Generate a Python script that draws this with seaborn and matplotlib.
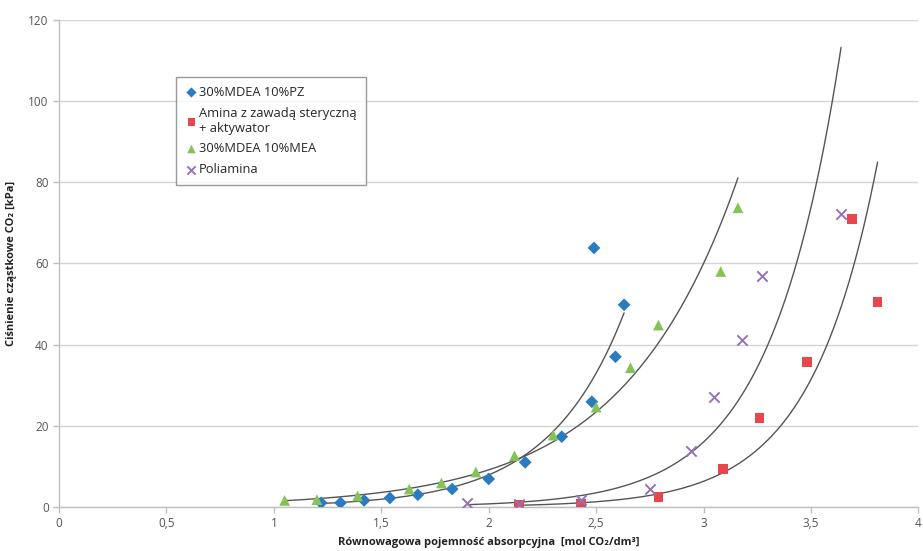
import numpy as np
import pandas as pd
import matplotlib
matplotlib.use("Agg")
import matplotlib.pyplot as plt
import seaborn as sns
from matplotlib.ticker import FuncFormatter, MultipleLocator

# Dane
pz_x = [1.22, 1.31, 1.42, 1.54, 1.67, 1.83, 2.00, 2.17, 2.34, 2.48, 2.59, 2.63, 2.49]
pz_y = [1.0, 1.0, 1.6, 2.2, 3.0, 4.4, 6.9, 11.0, 17.3, 25.9, 37.0, 49.8, 63.8]

amina_x = [2.14, 2.43, 2.79, 3.09, 3.26, 3.48, 3.69, 3.81]
amina_y = [0.5, 0.7, 2.5, 9.4, 21.9, 35.7, 71.0, 50.5]

mea_x = [1.05, 1.20, 1.39, 1.63, 1.78, 1.94, 2.12, 2.30, 2.50, 2.66, 2.79, 3.08, 3.16]
mea_y = [1.6, 1.8, 2.7, 4.4, 5.9, 8.6, 12.6, 17.7, 24.6, 34.3, 44.8, 58.0, 73.7]

poli_x = [1.90, 2.14, 2.43, 2.75, 2.94, 3.05, 3.18, 3.27, 3.64]
poli_y = [1.0, 0.8, 1.7, 4.4, 13.8, 27.1, 41.2, 56.9, 72.2]

series_names = ["30%MDEA 10%PZ", "Amina z zawadą steryczną\n+ aktywator",
                "30%MDEA 10%MEA", "Poliamina"]
series_colors = ["#2A7BC0", "#E5474A", "#86C257", "#9672B8"]
series_markers = ["D", "s", "^", "x"]
series_sizes = [42, 50, 60, 55]

xs = [pz_x, amina_x, mea_x, poli_x]
ys = [pz_y, amina_y, mea_y, poli_y]

df = pd.concat([
    pd.DataFrame({"x": x, "y": y, "seria": name})
    for x, y, name in zip(xs, ys, series_names)
], ignore_index=True)

sns.set_style("white")
plt.rcParams["font.family"] = ["Open Sans", "DejaVu Sans"]

fig = plt.figure(figsize=(9.23, 5.51), dpi=100)
ax = fig.add_axes([0.064, 0.08, 0.931, 0.884])

ax.yaxis.grid(True, color="#D4D4D4", linewidth=1)
ax.set_axisbelow(True)

# Linie trendu wykladniczego (jak w Excelu: dopasowanie ln(y) ~ x)
for x, y in zip(xs, ys):
    b, ln_a = np.polyfit(x, np.log(y), 1)
    xx = np.linspace(min(x), max(x), 200)
    ax.plot(xx, np.exp(ln_a) * np.exp(b * xx), color="#555555", linewidth=1.0, zorder=2)

for name, color, marker, size in zip(series_names, series_colors, series_markers, series_sizes):
    sub = df[df["seria"] == name]
    kw = dict(linewidth=1.4) if marker == "x" else dict(edgecolor="none")
    sns.scatterplot(data=sub, x="x", y="y", ax=ax, color=color, marker=marker,
                    s=size, label=name, zorder=3, **kw)

ax.set_xlim(0, 4)
ax.set_ylim(0, 120)
ax.xaxis.set_major_locator(MultipleLocator(0.5))
ax.yaxis.set_major_locator(MultipleLocator(20))
ax.xaxis.set_major_formatter(FuncFormatter(lambda v, _: f"{v:g}".replace(".", ",")))

for side in ["top", "right"]:
    ax.spines[side].set_visible(False)
for side in ["left", "bottom"]:
    ax.spines[side].set_color("#BFBFBF")
    ax.spines[side].set_linewidth(1)

ax.tick_params(axis="both", which="major", length=4, width=1, color="#BFBFBF",
               labelsize=8.5, labelcolor="#555555", direction="out", bottom=True, left=True)

ax.set_xlabel("Równowagowa pojemność absorpcyjna  [mol CO₂/dm³]", fontsize=8,
              fontweight="bold", color="#222222", labelpad=5)
ax.set_ylabel("Ciśnienie cząstkowe CO₂ [kPa]", fontsize=8, fontweight="bold",
              color="#222222", labelpad=8)

handles, labels = ax.get_legend_handles_labels()
leg = ax.legend(handles, labels, loc="upper left", bbox_to_anchor=(0.136, 0.883),
                frameon=True, fancybox=False, fontsize=9.3, handletextpad=0.1,
                handlelength=1.0, borderpad=0.7, labelspacing=0.6, markerscale=0.8,
                borderaxespad=0)
leg.get_frame().set_edgecolor("#808080")
leg.get_frame().set_linewidth(1)

fig.savefig("out.png", dpi=100)
